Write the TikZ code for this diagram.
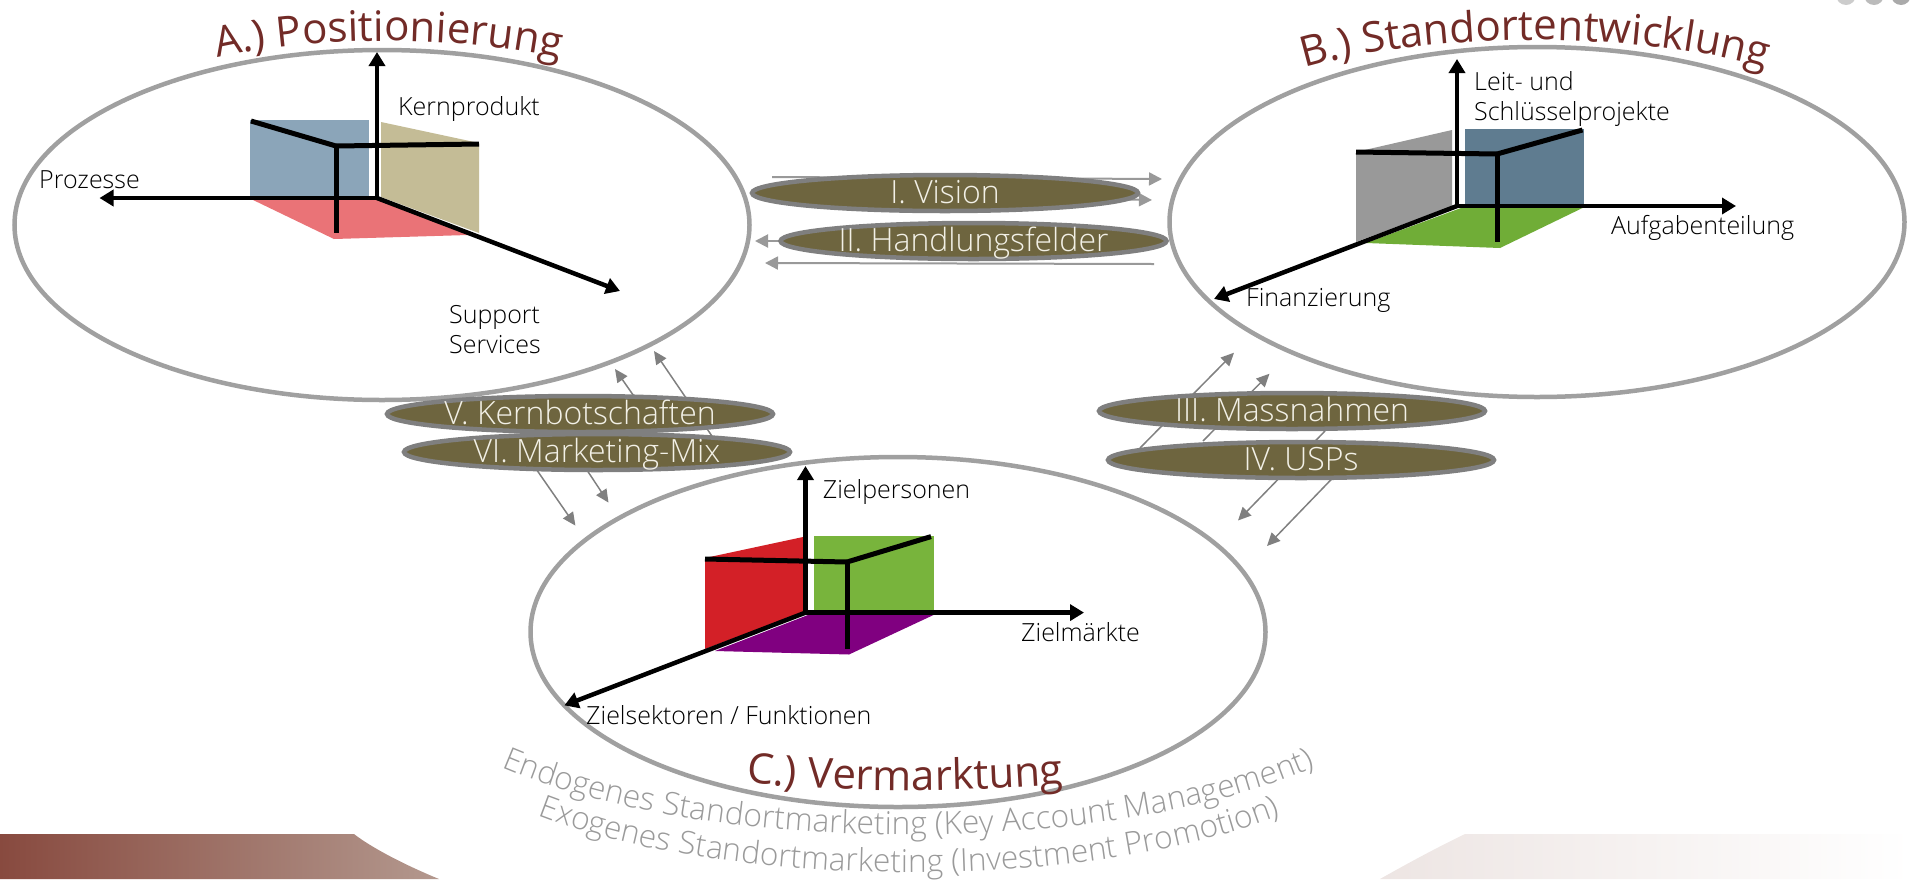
\documentclass[tikz,border=0pt]{standalone}
\usepackage{fontspec}
\setmainfont{Open Sans Light}
\newfontfamily\titlefont{Open Sans}
\usetikzlibrary{arrows.meta,shapes.geometric,decorations.text}
\definecolor{ringgrey}{HTML}{A0A0A0}
\definecolor{flowgrey}{HTML}{999999}
\definecolor{pillfill}{HTML}{6E653F}
\definecolor{pillline}{HTML}{7F7F7F}
\definecolor{titlered}{HTML}{722B27}
\definecolor{pilltext}{HTML}{F2F0E6}
\definecolor{bandA}{HTML}{884A3F}
\definecolor{bandB}{HTML}{B3988E}
\definecolor{bandC}{HTML}{EDE5E3}
\definecolor{dotA}{HTML}{CCCCCC}
\definecolor{dotB}{HTML}{BBBBBB}
\definecolor{dotC}{HTML}{AAAAAA}
\definecolor{sideblue}{HTML}{8BA5B9}
\definecolor{sidetan}{HTML}{C4BC96}
\definecolor{sidepink}{HTML}{EA7377}
\definecolor{sidesteel}{HTML}{5F7C90}
\definecolor{sidegrey}{HTML}{999999}
\definecolor{sidegreen}{HTML}{70AD37}
\definecolor{sidelime}{HTML}{78B43C}
\definecolor{sidered}{HTML}{D32027}
\definecolor{sidepurple}{HTML}{800080}
\definecolor{arctext}{HTML}{9A9A9A}
\tikzset{
  ring/.style={ellipse,draw=ringgrey,line width=4.5pt,fill=white,minimum width=#1,minimum height=350pt,inner sep=0pt},
  pill/.style={ellipse,draw=pillline,line width=4.5pt,fill=pillfill,minimum width=386pt,minimum height=36pt,inner sep=0pt,text height=21pt,text depth=0pt,text=pilltext,font=\fontsize{32}{32}\selectfont},
  axis/.style={line width=4.5pt,-{Triangle[length=14pt,width=16pt]}},
  edge3d/.style={line width=5pt},
  flow/.style={draw=flowgrey,line width=2pt,-{Triangle[length=13pt,width=13pt]}},
  flowd/.style={draw=gray,line width=1.5pt,-{Triangle[length=13pt,width=12pt]}},
  lab/.style={anchor=base west,inner sep=0pt,text=black,font=\fontsize{25}{25}\selectfont},
}
\begin{document}
\begin{tikzpicture}[x=1pt,y=-1pt]
\useasboundingbox (0,0) rectangle (1912,879);
\begin{scope}
\clip (0,0) rectangle (1912,879);
% page furniture
\shade[left color=bandA,right color=bandB] (0,834) -- (354,834) .. controls (372,848) and (405,865) .. (439,879) -- (0,879) -- cycle;
\shade[left color=bandC,right color=white] (1465,834) .. controls (1440,846) and (1410,862) .. (1380,879) -- (1912,879) -- (1912,834) -- cycle;
\fill[dotA] (1846,-5) circle (10);
\fill[dotB] (1874,-5) circle (10);
\fill[dotC] (1901,-5) circle (10);
\end{scope}
% rings
\node[ring=735pt] (ringA) at (382,225) {};
\node[ring=735pt] (ringB) at (1537,222) {};
\node[ring=735pt] (ringC) at (898,632) {};
% flow end points
\coordinate (i1s) at (772,177); \coordinate (i1t) at (1162,179);
\coordinate (i2s) at (1000,197); \coordinate (i2t) at (1152,200);
\coordinate (h1s) at (1154,264); \coordinate (h1t) at (765,263);
\coordinate (h2s) at (900,241); \coordinate (h2t) at (755,241);
\coordinate (v1s) at (716,442); \coordinate (v1t) at (654,351);
\coordinate (v2s) at (645,412); \coordinate (v2t) at (615,369);
\coordinate (d1s) at (516,440); \coordinate (d1t) at (575.4,525.6);
\coordinate (d2s) at (567,440); \coordinate (d2t) at (608.5,502.6);
\coordinate (m1s) at (1140,448); \coordinate (m1t) at (1234,352.7);
\coordinate (m2s) at (1203,441); \coordinate (m2t) at (1269.5,373.7);
\coordinate (u1s) at (1325,431); \coordinate (u1t) at (1238,520.5);
\coordinate (u2s) at (1350,460); \coordinate (u2t) at (1267,546);
\draw[flow] (i1s) -- (i1t);
\draw[flow] (i2s) -- (i2t);
\draw[flow] (h1s) -- (h1t);
\draw[flow] (h2s) -- (h2t);
\draw[flowd] (v1s) -- (v1t);
\draw[flowd] (v2s) -- (v2t);
\draw[flowd] (d1s) -- (d1t);
\draw[flowd] (d2s) -- (d2t);
\draw[flowd] (m1s) -- (m1t);
\draw[flowd] (m2s) -- (m2t);
\draw[flowd] (u1s) -- (u1t);
\draw[flowd] (u2s) -- (u2t);
% pills
\node[pill] (vision) at (945,193) {I. Vision};
\node[pill] (felder) at (973.5,241) {II. Handlungsfelder};
\node[pill] (mass) at (1292,411) {III. Massnahmen};
\node[pill] (usps) at (1301,460) {IV. USPs};
\node[pill] (kern) at (580,414) {V. Kernbotschaften};
\node[pill] (mix) at (597,452) {VI. Marketing-Mix};
% cube A
\fill[sideblue] (250,120) rectangle (369,197);
\fill[sidetan] (381,122) -- (479,143) -- (479,233) -- (381,197) -- cycle;
\fill[sidepink] (251,199) -- (376,199) -- (468,235) -- (334,239) -- cycle;
\coordinate (oA) at (377,198);
\coordinate (aU) at (377,52); \coordinate (aL) at (99.5,198); \coordinate (aD) at (620,291);
\draw[axis] (oA) -- (aU);
\draw[axis] (oA) -- (aL);
\draw[axis] (oA) -- (aD);
\coordinate (cA) at (336,146);
\coordinate (cA1) at (251,121); \coordinate (cA2) at (479,144); \coordinate (cA3) at (336,233);
\draw[edge3d] (cA) -- (cA1);
\draw[edge3d] (cA) -- (cA2);
\draw[edge3d] (cA) -- (cA3);
\node[lab] (kernprodukt) at (398,115) {Kernprodukt};
\node[lab] (prozesse) at (39,188) {Prozesse};
\node[lab] (support) at (449,323) {Support};
\node[lab] (services) at (449,353) {Services};
% cube B
\fill[sidesteel] (1465,129) rectangle (1583.5,206);
\fill[sidegrey] (1356,152) -- (1452,130) -- (1452,206) -- (1356,242) -- cycle;
\fill[sidegreen] (1461,208) -- (1582.5,208) -- (1500,248) -- (1366,243) -- cycle;
\coordinate (oB) at (1457,206);
\coordinate (bU) at (1457,59); \coordinate (bR) at (1736,206); \coordinate (bD) at (1214,299);
\draw[axis] (oB) -- (bU);
\draw[axis] (oB) -- (bR);
\draw[axis] (oB) -- (bD);
\coordinate (cB) at (1497,154);
\coordinate (cB1) at (1356,152); \coordinate (cB2) at (1582.5,130); \coordinate (cB3) at (1497,242);
\draw[edge3d] (cB) -- (cB1);
\draw[edge3d] (cB) -- (cB2);
\draw[edge3d] (cB) -- (cB3);
\node[lab] (leit) at (1474,90) {Leit- und};
\node[lab] (schluessel) at (1474,120) {Schlüsselprojekte};
\node[lab] (aufgaben) at (1611,234) {Aufgabenteilung};
\node[lab] (finanz) at (1246,306) {Finanzierung};
% cube C
\fill[sidelime] (814,536) rectangle (933.5,611.6);
\fill[sidered] (705,558) -- (803,537) -- (803,612) -- (705,649) -- cycle;
\fill[sidepurple] (808,615) -- (933.5,615) -- (849,654.5) -- (715,651) -- cycle;
\coordinate (oC) at (805.5,612.6);
\coordinate (zU) at (805.5,466); \coordinate (zR) at (1084,612.6); \coordinate (zD) at (564.4,705.4);
\draw[axis] (oC) -- (zU);
\draw[axis] (oC) -- (zR);
\draw[axis] (oC) -- (zD);
\coordinate (cC) at (847,562);
\coordinate (cC1) at (705,559); \coordinate (cC2) at (931,536.6); \coordinate (cC3) at (847,649);
\draw[edge3d] (cC) -- (cC1);
\draw[edge3d] (cC) -- (cC2);
\draw[edge3d] (cC) -- (cC3);
\node[lab] (zielpers) at (822.7,498) {Zielpersonen};
\node[lab] (zielmaerkte) at (1021,641.5) {Zielmärkte};
\node[lab] (zielsek) at (586,724) {Zielsektoren / Funktionen};
% curved titles
\path[decorate,decoration={text along path,text align=center,text color=titlered,text={|\titlefont\fontsize{42}{42}\selectfont|A.) Positionierung}}]
  (200,62) .. controls (300,34) and (470,34) .. (578,62);
\path[decorate,decoration={text along path,text align=center,text color=titlered,text={|\titlefont\fontsize{42}{42}\selectfont|B.) Standortentwicklung}}]
  (1280,76) .. controls (1410,28) and (1660,28) .. (1790,76);
\path[decorate,decoration={text along path,text align=center,text color=titlered,text={|\titlefont\fontsize{42}{42}\selectfont|C.) Vermarktung}}]
  (730,781) .. controls (840,793) and (960,793) .. (1080,783);
\path[decorate,decoration={text along path,text align=center,text color=arctext,text={|\fontsize{31.7}{32}\selectfont|Endogenes Standortmarketing (Key Account Management)}}]
  (490,762) .. controls (700,859) and (1120,859) .. (1326,762);
\path[decorate,decoration={text along path,text align=center,text color=arctext,text={|\fontsize{31.7}{32}\selectfont|Exogenes Standortmarketing (Investment Promotion)}}]
  (525,810) .. controls (720,893) and (1100,893) .. (1293,810);
\end{tikzpicture}
\end{document}
